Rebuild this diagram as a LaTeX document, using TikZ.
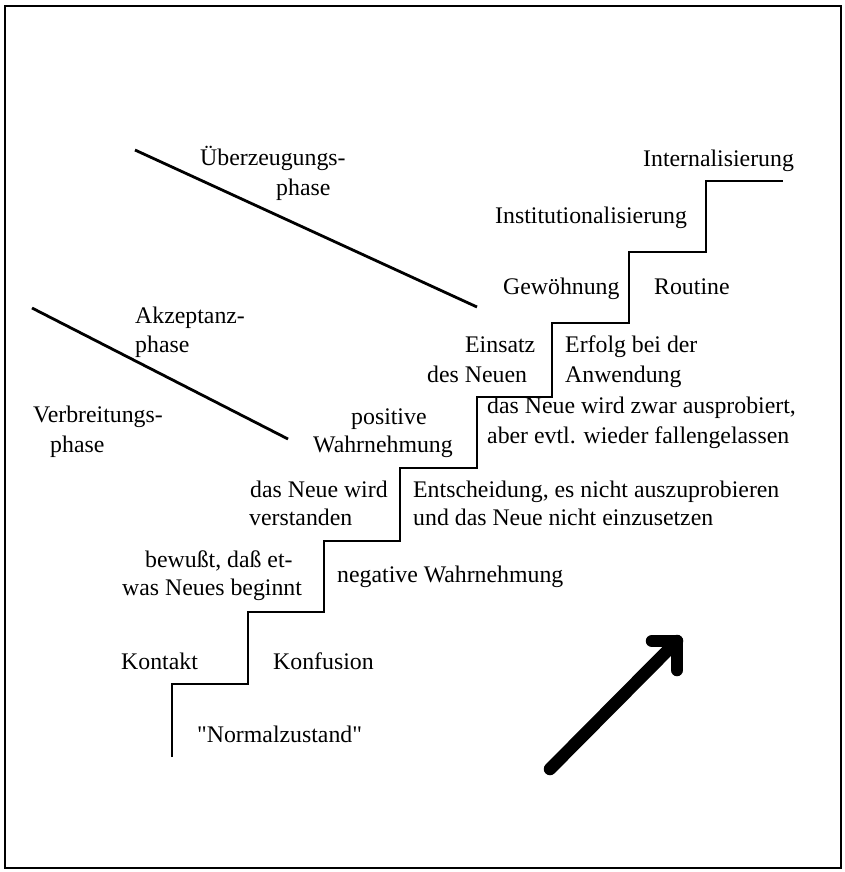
\documentclass[tikz,border=0pt]{standalone}
\usepackage{fontspec}
\setmainfont{Liberation Serif}
% same face without the TeX input mapping, so that " stays a straight quote
\newfontfamily\rawserif{Liberation Serif}
\begin{document}
\begin{tikzpicture}[x=1pt,y=-1pt,
  lbl/.style={inner sep=0pt,anchor=base west,font=\fontsize{23.8}{29}\selectfont},
  stair/.style={line width=2.8pt,line join=miter},
  phaseline/.style={line width=2.8pt},
  bigarrow/.style={line width=12.5pt,line cap=round,line join=round}]
\useasboundingbox (0,0) rectangle (844,872);
% frame
\draw[line width=2.8pt] (5,6) rectangle (841,868);

% staircase
\coordinate (s0) at (172,757);
\draw[stair] (s0) |- (248,684) |- (324,612) |- (400,541) |- (477,468)
  |- (552,397) |- (629,323) |- (706,252) |- (783,181);

% phase boundaries
\coordinate (pa1) at (135,150); \coordinate (pa2) at (477,307);
\coordinate (pb1) at (32,308);  \coordinate (pb2) at (288,439);
\draw[phaseline] (pa1) -- (pa2);
\draw[phaseline] (pb1) -- (pb2);

% phase labels
\node[lbl] (ue1) at (200,165) {Überzeugungs-};
\node[lbl] (ue2) at (276,195) {phase};
\node[lbl] (ak1) at (135,323) {Akzeptanz-};
\node[lbl] (ak2) at (135,352) {phase};
\node[lbl] (vb1) at (33,422) {Verbreitungs-};
\node[lbl] (vb2) at (50,452) {phase};

% step labels
\node[lbl] (intern) at (643,166) {Internalisierung};
\node[lbl] (inst) at (495,223) {Institutionalisierung};
\node[lbl] (gew) at (503,294) {Gewöhnung};
\node[lbl] (rout) at (654,294) {Routine};
\node[lbl] (ein1) at (465,352) {Einsatz};
\node[lbl] (ein2) at (427,382) {des Neuen};
\node[lbl] (erf1) at (565,352) {Erfolg bei der};
\node[lbl] (erf2) at (565,382) {Anwendung};
\node[lbl] (pos1) at (351,424) {positive};
\node[lbl] (pos2) at (313,452) {Wahrnehmung};
\node[lbl] (aus1) at (487,413) {das Neue wird zwar ausprobiert,};
\node[lbl] (aus2) at (487,443) {aber evtl. wieder fallengelassen};
\node[lbl] (ver1) at (250,497) {das Neue wird};
\node[lbl] (ver2) at (249,525) {verstanden};
\node[lbl] (ent1) at (413,497) {Entscheidung, es nicht auszuprobieren};
\node[lbl] (ent2) at (413,525) {und das Neue nicht einzusetzen};
\node[lbl] (bew1) at (145,567) {bewußt, daß et-};
\node[lbl] (bew2) at (122,595) {was Neues beginnt};
\node[lbl] (neg) at (337,582) {negative Wahrnehmung};
\node[lbl] (kont) at (121,669) {Kontakt};
\node[lbl] (konf) at (273,669) {Konfusion};
\node[lbl] (norm) at (197,742) {\rawserif "Normalzustand"};

% upward arrow
\coordinate (at) at (550,769);
\coordinate (ah) at (677,641);
\draw[bigarrow] (at) -- (ah);
\draw[bigarrow] (652,641) -- (ah) -- (677,670);
\end{tikzpicture}
\end{document}
